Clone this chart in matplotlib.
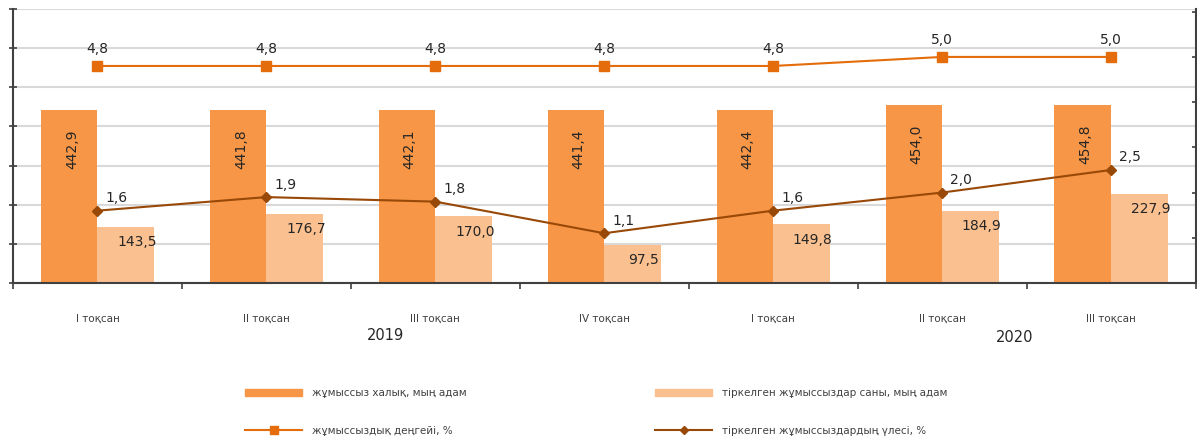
import matplotlib.pyplot as plt
from matplotlib.lines import Line2D
from matplotlib.patches import Patch

# quarters, two years
quarters = ["I тоқсан", "II тоқсан", "III тоқсан", "IV тоқсан",
            "I тоқсан", "II тоқсан", "III тоқсан"]
years = ["2019", "2020"]

unemployed = [442.9, 441.8, 442.1, 441.4, 442.4, 454.0, 454.8]        # мың адам
registered = [143.5, 176.7, 170.0, 97.5, 149.8, 184.9, 227.9]         # мың адам
unemp_rate = [4.8, 4.8, 4.8, 4.8, 4.8, 5.0, 5.0]                      # %
reg_share = [1.6, 1.9, 1.8, 1.1, 1.6, 2.0, 2.5]                       # %

names = ["жұмыссыз халық, мың адам", "тіркелген жұмыссыздар саны, мың адам",
         "жұмыссыздық деңгейі, %", "тіркелген жұмыссыздардың үлесі, %"]

C_BAR1 = "#F79646"
C_BAR2 = "#FAC090"
C_LINE1 = "#E46C0A"
C_LINE2 = "#984807"
AXC = "#404040"


def fmt(v):
    return f"{v:.1f}".replace(".", ",")


fig = plt.figure(figsize=(11.97, 4.38), dpi=100)
ax = fig.add_axes([13 / 1197, 1 - 283 / 438, 1182.5 / 1197, 274 / 438])

x = list(range(len(quarters)))
w = 0.335
b1 = ax.bar([i - w / 2 for i in x], unemployed, w, color=C_BAR1, zorder=2)
b2 = ax.bar([i + w / 2 for i in x], registered, w, color=C_BAR2, zorder=2)

ax.set_xlim(-0.5, len(x) - 0.5)
ax.set_ylim(0, 700)
ax.set_yticks(range(0, 701, 100))
ax.set_yticklabels([])
ax.grid(axis="y", color="#D9D9D9", lw=1.5, zorder=0)
ax.set_axisbelow(True)

ax.set_xticks(x)
ax.set_xticklabels(quarters, fontsize=7.5, color=AXC)
ax.set_xticks([i - 0.5 for i in range(len(x) + 1)], minor=True)
ax.tick_params(axis="x", which="major", length=0, pad=22)
ax.tick_params(axis="x", which="minor", length=4, direction="out", color=AXC, width=1.2)
ax.tick_params(axis="y", length=6, direction="inout", color=AXC, width=1.2)

for s in ["top", "right"]:
    ax.spines[s].set_visible(False)
for s in ["left", "bottom"]:
    ax.spines[s].set_color(AXC)
    ax.spines[s].set_linewidth(1.5)

for rect, v in zip(b1, unemployed):
    ax.annotate(fmt(v), (rect.get_x() + rect.get_width() / 2, v),
                xytext=(2, -14), textcoords="offset points",
                rotation=90, ha="center", va="top", fontsize=10, color="#262626")
for rect, v in zip(b2, registered):
    ax.annotate(fmt(v), (rect.get_x() + rect.get_width() / 2, v),
                xytext=(8, -6), textcoords="offset points",
                ha="center", va="top", fontsize=10, color="#262626")

ax2 = ax.twinx()
ax2.set_ylim(0, 6.06)
ax2.set_yticks(range(0, 7))
ax2.set_yticklabels([])
ax2.tick_params(axis="y", length=6, direction="inout", color=AXC, width=1.2)
for s in ["top", "left", "bottom"]:
    ax2.spines[s].set_visible(False)
ax2.spines["right"].set_color(AXC)
ax2.spines["right"].set_linewidth(1.5)

ax2.plot(x, unemp_rate, color=C_LINE1, lw=1.5, marker="s", ms=6.5, zorder=3)
ax2.plot(x, reg_share, color=C_LINE2, lw=1.5, marker="D", ms=5, zorder=3)

for i, v in zip(x, unemp_rate):
    ax2.annotate(fmt(v), (i, v), xytext=(0, 7), textcoords="offset points",
                 ha="center", va="bottom", fontsize=10, color="#262626")
for i, v in zip(x, reg_share):
    ax2.annotate(fmt(v), (i, v), xytext=(6, 4), textcoords="offset points",
                 ha="left", va="bottom", fontsize=10, color="#262626")

# year labels under the quarter labels
fig.text(385 / 1197, 1 - 336 / 438, years[0], ha="center", va="center", fontsize=10.5, color="#262626")
fig.text(1015 / 1197, 1 - 338 / 438, years[1], ha="center", va="center", fontsize=10.5, color="#262626")

h1 = [Patch(color=C_BAR1), Line2D([], [], color=C_LINE1, lw=1.5, marker="s", ms=6)]
h2 = [Patch(color=C_BAR2), Line2D([], [], color=C_LINE2, lw=1.5, marker="D", ms=4.5)]
common = dict(frameon=False, fontsize=7.5, labelcolor=AXC, handlelength=5.5,
              handletextpad=0.9, labelspacing=2.6, borderpad=0, borderaxespad=0,
              loc="center left")
leg1 = fig.legend(h1, [names[0], names[2]], bbox_to_anchor=(245 / 1197, 1 - 412 / 438), **common)
leg2 = fig.legend(h2, [names[1], names[3]], bbox_to_anchor=(655 / 1197, 1 - 412 / 438), **common)

fig.savefig("out.png", dpi=100)
